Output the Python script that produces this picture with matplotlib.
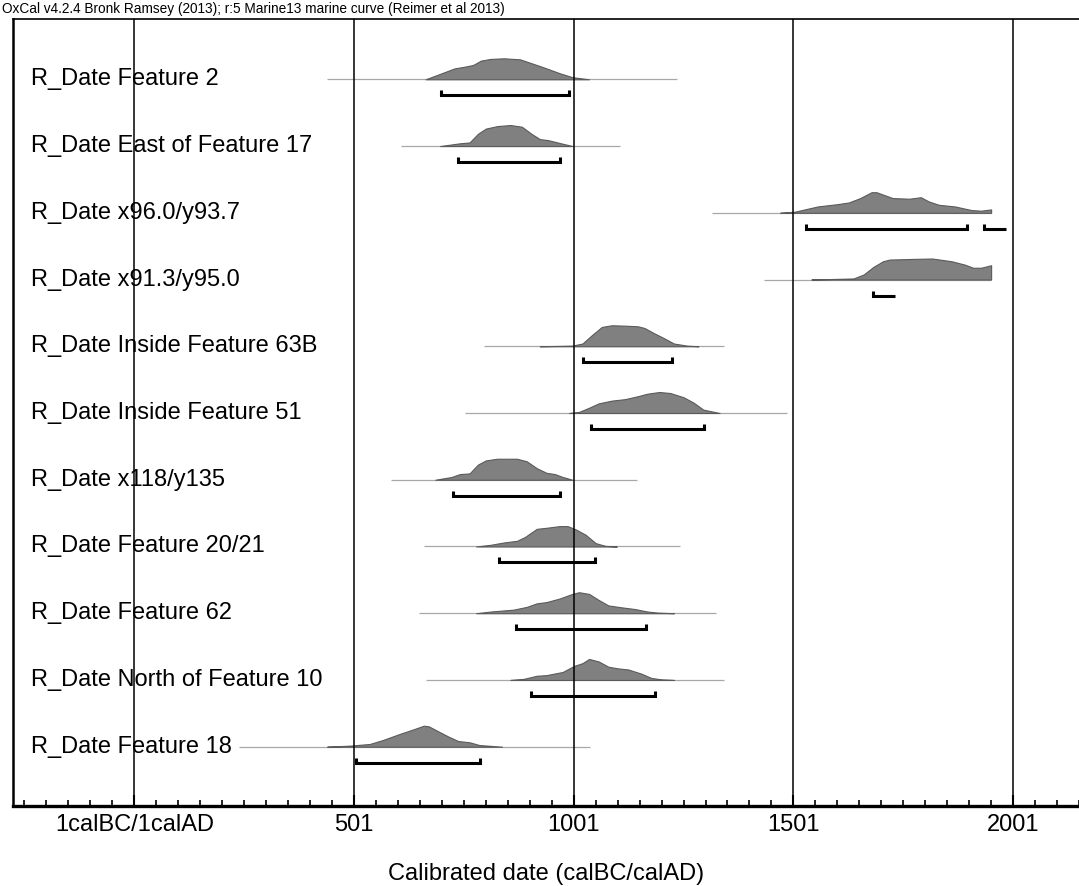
"""
OxCal multiplot: calibrated R_Date distributions with 95.4% ranges.
"""

import matplotlib
matplotlib.use("Agg")
import matplotlib.pyplot as plt
import matplotlib.transforms as mtransforms

plt.rcParams["font.family"] = ["Liberation Sans", "DejaVu Sans"]

title = "OxCal v4.2.4 Bronk Ramsey (2013); r:5 Marine13 marine curve (Reimer et al 2013)"
xlabel = "Calibrated date (calBC/calAD)"

labels = [
    "R_Date Feature 2",
    "R_Date East of Feature 17",
    "R_Date x96.0/y93.7",
    "R_Date x91.3/y95.0",
    "R_Date Inside Feature 63B",
    "R_Date Inside Feature 51",
    "R_Date x118/y135",
    "R_Date Feature 20/21",
    "R_Date Feature 62",
    "R_Date North of Feature 10",
    "R_Date Feature 18",
]

# calibrated probability curves (year, relative height)
curve_years = [
    [664, 730, 753, 772, 790, 812, 842, 879, 917, 939, 969, 998, 1036],
    [697, 742, 764, 783, 801, 827, 857, 883, 905, 924, 943, 972, 998],
    [1471, 1504, 1556, 1601, 1627, 1653, 1679, 1690, 1727, 1765, 1791, 1809,
     1832, 1869, 1906, 1928, 1951],
    [1542, 1638, 1661, 1683, 1705, 1720, 1772, 1817, 1861, 1891, 1910, 1928, 1951],
    [924, 998, 1021, 1043, 1065, 1088, 1118, 1147, 1162, 1184, 1207, 1229, 1259, 1285],
    [991, 1013, 1036, 1058, 1088, 1118, 1147, 1169, 1196, 1221, 1251, 1274, 1296, 1333],
    [686, 723, 742, 764, 783, 801, 827, 872, 894, 917, 939, 958, 976, 998],
    [779, 812, 842, 872, 890, 917, 939, 969, 987, 1006, 1028, 1051, 1073, 1099],
    [779, 812, 864, 894, 917, 939, 969, 998, 1013, 1036, 1058, 1080, 1110, 1140,
     1169, 1192, 1229],
    [857, 887, 917, 939, 976, 1002, 1021, 1036, 1058, 1080, 1102, 1125, 1155,
     1177, 1199, 1229],
    [440, 492, 537, 567, 604, 634, 660, 671, 693, 716, 738, 764, 786, 838],
]
curve_heights = [
    [0, 0.52, 0.6, 0.68, 0.89, 0.97, 1.0, 0.95, 0.68, 0.52, 0.29, 0.1, 0],
    [0, 0.13, 0.17, 0.58, 0.83, 0.95, 1.0, 0.92, 0.58, 0.33, 0.28, 0.13, 0],
    [0, 0.05, 0.3, 0.41, 0.49, 0.7, 0.98, 0.98, 0.7, 0.67, 0.74, 0.54,
     0.38, 0.3, 0.13, 0.1, 0.16],
    [0, 0.05, 0.24, 0.6, 0.87, 0.95, 0.98, 1.0, 0.87, 0.71, 0.56, 0.56, 0.68],
    [0, 0.03, 0.13, 0.54, 0.92, 1.0, 0.98, 0.95, 0.87, 0.62, 0.38, 0.13, 0.03, 0],
    [0, 0.05, 0.25, 0.46, 0.59, 0.66, 0.8, 0.92, 1.0, 0.95, 0.75, 0.49, 0.16, 0],
    [0, 0.13, 0.27, 0.3, 0.72, 0.92, 1.0, 1.0, 0.88, 0.55, 0.33, 0.27, 0.13, 0],
    [0, 0.08, 0.19, 0.27, 0.45, 0.84, 0.89, 0.97, 0.97, 0.81, 0.56, 0.16, 0.03, 0],
    [0, 0.08, 0.17, 0.3, 0.47, 0.53, 0.7, 0.92, 1.0, 0.92, 0.63, 0.37, 0.28, 0.2,
     0.08, 0.03, 0],
    [0, 0.05, 0.2, 0.23, 0.38, 0.67, 0.8, 1.0, 0.88, 0.63, 0.55, 0.5, 0.3,
     0.1, 0.03, 0],
    [0, 0.05, 0.13, 0.32, 0.6, 0.81, 1.0, 0.97, 0.73, 0.48, 0.27, 0.21, 0.08, 0],
]

# extent of the thin baseline for each date
line_start = [440, 609, 1315, 1435, 796, 754, 585, 660, 649, 665, 239]
line_end = [1236, 1107, 1951, 1951, 1344, 1486, 1145, 1243, 1325, 1344, 1039]

# 95.4% ranges: (from, to, right end closed)
ranges_95 = [
    [(699, 991, True)],
    [(738, 969, True)],
    [(1530, 1897, True), (1934, 1984, False)],
    [(1683, 1733, False)],
    [(1022, 1225, True)],
    [(1041, 1297, True)],
    [(727, 969, True)],
    [(832, 1049, True)],
    [(870, 1166, True)],
    [(903, 1187, True)],
    [(506, 788, True)],
]

major_ticks = [1, 501, 1001, 1501, 2001]
major_labels = ["1calBC/1calAD", "501", "1001", "1501", "2001"]
minor_ticks = list(range(-249, 2152, 50))

W, H = 1079, 886
fig = plt.figure(figsize=(W / 100, H / 100), dpi=100)
ax = fig.add_axes([13 / W, (H - 806) / H, 1 - 13 / W, (806 - 19) / H])

row_px = 66.74
ax.set_xlim(-275, 2106)
ax.set_ylim((806 - 79.3) / row_px, (19 - 79.3) / row_px)

peak = 21 / row_px
br_off = 16 / row_px
br_tick = 5 / row_px

for i in range(len(labels)):
    ax.hlines(i, line_start[i], line_end[i], color="#a8a8a8", lw=0.9, zorder=1)
    ys = [i - h * peak for h in curve_heights[i]]
    ax.fill_between(curve_years[i], i, ys, facecolor="#808080",
                    edgecolor="#5a5a5a", lw=0.8, zorder=2)
    yb = i + br_off
    for a, b, closed in ranges_95[i]:
        xs = [a, a, b] + ([b] if closed else [])
        yy = [yb - br_tick, yb, yb] + ([yb - br_tick] if closed else [])
        ax.plot(xs, yy, color="black", lw=2.2, solid_capstyle="butt",
                solid_joinstyle="miter", zorder=3)

trans = mtransforms.blended_transform_factory(ax.transAxes, ax.transData)
for i, lab in enumerate(labels):
    ax.text((31 - 13) / (W - 13), i, lab, transform=trans, fontsize=17,
            ha="left", va="center", zorder=4)

for x in major_ticks:
    ax.axvline(x, color="black", lw=1.1, zorder=5)

ax.set_xticks(major_ticks)
ax.set_xticklabels(major_labels, fontsize=17)
ax.set_xticks(minor_ticks, minor=True)
ax.tick_params(axis="x", which="major", direction="in", length=8, width=1.5, pad=6)
ax.tick_params(axis="x", which="minor", direction="in", length=4.5, width=1.2)
ax.set_yticks([])

ax.spines["right"].set_visible(False)
ax.spines["left"].set_linewidth(1.8)
ax.spines["top"].set_linewidth(1.2)
ax.spines["bottom"].set_linewidth(2.4)

fig.text(546 / W, 1 - 874 / H, xlabel, fontsize=17, ha="center", va="center")
fig.text(2 / W, 1 - 9 / H, title, fontsize=9.8, ha="left", va="center")

fig.savefig("out.png", dpi=100)
